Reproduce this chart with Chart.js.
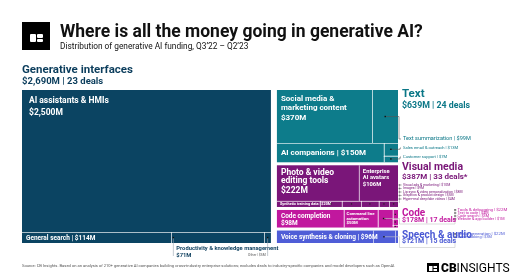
<!DOCTYPE html>
<html><head><meta charset="utf-8">
<script src="https://cdn.jsdelivr.net/npm/chart.js@4.4.0/dist/chart.umd.min.js"></script>
<style>
html,body{margin:0;padding:0;background:#fff;width:520px;height:272px;overflow:hidden;}
#wrap{position:relative;width:520px;height:272px;font-family:Roboto,'Liberation Sans',sans-serif;}
#logo{position:absolute;left:22px;top:22px;width:28px;height:28px;background:#000;}
.lg{position:absolute;background:#fff;border-radius:1px;}
#title{position:absolute;left:60px;top:20px;font-weight:700;font-size:17.5px;line-height:22px;color:#111;white-space:nowrap;}
#subtitle{position:absolute;left:60px;top:40.5px;font-size:8.3px;line-height:11px;color:#111;white-space:nowrap;}
canvas{position:absolute;left:0;top:0;}
</style></head>
<body><div id="wrap">
<canvas id="c" width="520" height="272"></canvas>
<div id="logo"><div class="lg" style="left:8px;top:12px;width:6px;height:8px"></div><div class="lg" style="left:15px;top:12px;width:6px;height:3.5px"></div><div class="lg" style="left:15px;top:16.5px;width:6px;height:3.5px"></div></div>
<div id="title">Where is all the money going in generative AI?</div>
<div id="subtitle">Distribution of generative AI funding, Q3’22 – Q2’23</div>
</div>
<script>
// ---------- DATA ----------
const groupNames = ['Generative interfaces', 'Text', 'Visual media', 'Code', 'Speech & audio'];
const groupFunding = [2690, 639, 387, 178, 121];
const groupDeals = ['23 deals', '24 deals', '33 deals*', '17 deals', '15 deals'];

const interfaceCategories = ['AI assistants & HMIs', 'General search', 'Productivity & knowledge management', 'Other'];
const interfaceFunding = [2500, 114, 71, 5];
const textCategories = ['Social media & marketing content', 'Text summarization', 'AI companions', 'Sales email & outreach', 'Customer support'];
const textFunding = [370, 99, 150, 13, 7];
const visualCategories = ['Photo & video editing tools', 'Enterprise AI avatars', 'Synthetic training data', 'Visual ads & marketing', 'Images', 'Lip sync & video personalization', 'Graphics & product design', 'Hyper-real deepfake videos'];
const visualFunding = [222, 106, 20, 10, 9, 8, 5, 4];
const codeCategories = ['Code completion', 'Command line automation', 'Tools & debugging', 'Text to code', 'Code search', 'Website & app builder'];
const codeFunding = [98, 50, 22, 4, 3, 1];
const speechCategories = ['Voice synthesis & cloning', 'Music generation', 'Voice dubbing'];
const speechFunding = [96, 22, 3];

const sourceNote = 'Source: CB Insights. Based on an analysis of 210+ generative AI companies building cross-industry enterprise solutions; excludes deals to industry-specific companies and model developers such as OpenAI.';

// ---------- PRESENTATION ----------
const groupCats = [interfaceCategories, textCategories, visualCategories, codeCategories, speechCategories];
const groupVals = [interfaceFunding, textFunding, visualFunding, codeFunding, speechFunding];
const groupColors = ['#0b4462', '#0d7c8b', '#7a1679', '#c1189e', '#4f5dd7'];
const headColors = ['#0b3d5c', '#0b7787', '#781577', '#c1189e', '#4a58d4'];
// row / stack structure of each group's tiles
const templates = [
  [[0], [1, 2, 3]],
  [[0, 1], [2, [3, 4]]],
  [[0, 1], [2, 3, 4, 5, 6, 7]],
  [[0, 1, 2, [3, 4, 5]]],
  [[0, 1, 2]]
];
const FONT = 'Roboto, "Liberation Sans", sans-serif';
const fmt = v => '$' + v.toLocaleString('en-US') + 'M';

function setFont(ctx, size, weight) { ctx.font = `${weight || 700} ${size}px ${FONT}`; }
function txt(ctx, s, x, y, size, weight, color, align) {
  setFont(ctx, size, weight); ctx.fillStyle = color; ctx.textAlign = align || 'left';
  ctx.textBaseline = 'middle'; ctx.fillText(s, x, y);
}
function wrap(ctx, s, maxW) {
  const words = s.split(' '); const lines = []; let cur = '';
  for (const w of words) {
    const t = cur ? cur + ' ' + w : w;
    if (ctx.measureText(t).width > maxW && cur) { lines.push(cur); cur = w; } else cur = t;
  }
  if (cur) lines.push(cur); return lines;
}
function layout(values, rows) {
  const item = it => Array.isArray(it) ? it.reduce((s, i) => s + values[i], 0) : values[it];
  const rowSum = r => r.reduce((s, it) => s + item(it), 0);
  const total = rows.reduce((s, r) => s + rowSum(r), 0);
  const cells = []; let y0 = 0;
  rows.forEach(r => {
    const h = rowSum(r) / total; let x0 = 0;
    r.forEach(it => {
      const w = item(it) / rowSum(r);
      if (Array.isArray(it)) {
        let yy = y0;
        it.forEach(i => { const hh = h * values[i] / item(it); cells[i] = {x0: x0, x1: x0 + w, y0: yy, y1: yy + hh}; yy += hh; });
      } else cells[it] = {x0: x0, x1: x0 + w, y0: y0, y1: y0 + h};
      x0 += w;
    });
    y0 += h;
  });
  return cells;
}
function leader(ctx, pts, color) {
  ctx.save(); ctx.strokeStyle = color || '#555'; ctx.lineWidth = 0.6; ctx.beginPath();
  ctx.moveTo(pts[0][0], pts[0][1]); for (let i = 1; i < pts.length; i++) ctx.lineTo(pts[i][0], pts[i][1]);
  ctx.stroke(); ctx.fillStyle = '#111'; ctx.fillRect(pts[0][0] - 0.7, pts[0][1] - 0.7, 1.4, 1.4); ctx.restore();
}

const treemapPlugin = {
  id: 'treemap',
  afterDraw(chart) {
    const {ctx, scales: {x, y}} = chart;
    const grand = groupFunding.reduce((a, b) => a + b, 0);
    const rightTotal = grand - groupFunding[0];
    const GX = 6, GY = 3, last = groupFunding.length - 1;
    const gpx = [];
    let acc = 0;
    groupFunding.forEach((v, g) => {
      let d;
      if (g === 0) d = {x0: 0, x1: v, y0: 0, y1: 1};
      else { d = {x0: groupFunding[0], x1: grand, y0: acc / rightTotal, y1: (acc + v) / rightTotal}; acc += v; }
      gpx[g] = {
        x0: x.getPixelForValue(d.x0) + (g > 0 ? GX / 2 : 0),
        x1: x.getPixelForValue(d.x1) - (g === 0 ? GX / 2 : 0),
        y0: y.getPixelForValue(d.y0) + (g > 1 ? GY / 2 : 0),
        y1: y.getPixelForValue(d.y1) - (g > 0 && g < last ? GY / 2 : 0)
      };
    });
    const allCells = [];
    groupFunding.forEach((v, g) => {
      const G = gpx[g], W = G.x1 - G.x0, H = G.y1 - G.y0;
      const cells = layout(groupVals[g], templates[g]).map(c => ({
        x0: G.x0 + c.x0 * W, x1: G.x0 + c.x1 * W, y0: G.y0 + c.y0 * H, y1: G.y0 + c.y1 * H,
        right: c.x1 < 0.9999, bottom: c.y1 < 0.9999
      }));
      allCells[g] = cells;
      ctx.fillStyle = groupColors[g];
      cells.forEach(c => ctx.fillRect(c.x0, c.y0, c.x1 - c.x0, c.y1 - c.y0));
      ctx.save(); ctx.strokeStyle = 'rgba(255,255,255,0.6)'; ctx.lineWidth = 1;
      cells.forEach(c => {
        ctx.beginPath();
        if (c.right) { const xx = Math.round(c.x1) + 0.5; ctx.moveTo(xx, c.y0); ctx.lineTo(xx, c.y1); }
        if (c.bottom) { const yy = Math.round(c.y1) + 0.5; ctx.moveTo(c.x0, yy); ctx.lineTo(c.x1, yy); }
        ctx.stroke();
      });
      ctx.restore();
    });
    const W = '#ffffff';
    const cc = c => [(c.x0 + c.x1) / 2, (c.y0 + c.y1) / 2];
    function block(g, i, size, padX, firstY, lh, valGap, maxW) {
      const c = allCells[g][i]; setFont(ctx, size, 700);
      const lines = wrap(ctx, groupCats[g][i], maxW || (c.x1 - c.x0 - padX * 2));
      let yy = c.y0 + firstY;
      lines.forEach(l => { txt(ctx, l, c.x0 + padX, yy, size, 700, W); yy += lh; });
      txt(ctx, fmt(groupVals[g][i]), c.x0 + padX, yy - lh + valGap, size, 700, W);
    }
    function inline(g, i, size, padX) {
      const c = allCells[g][i];
      txt(ctx, groupCats[g][i] + ' | ' + fmt(groupVals[g][i]), c.x0 + padX, (c.y0 + c.y1) / 2 + 0.3, size, 700, W);
    }
    // --- Generative interfaces
    block(0, 0, 8.5, 7, 11, 11.5, 11.5, 200);
    inline(0, 1, 6.5, 4);
    { const c = allCells[0][2]; const p = [c.x0 + 2, (c.y0 + c.y1) / 2];
      leader(ctx, [p, [p[0], 256]], '#9aa6b0');
      txt(ctx, groupCats[0][2], c.x0 + 5, 249, 5.8, 700, headColors[0]);
      txt(ctx, fmt(groupVals[0][2]), c.x0 + 5, 255.5, 5.8, 700, headColors[0]); }
    { const c = allCells[0][3]; const p = cc(c);
      leader(ctx, [p, [p[0], 256]], '#9aa6b0');
      txt(ctx, groupCats[0][3] + ' | ' + fmt(groupVals[0][3]), p[0] - 2, 255.5, 3.4, 400, '#555', 'right'); }
    txt(ctx, groupNames[0], 22, 70.5, 11.5, 700, headColors[0]);
    txt(ctx, fmt(groupFunding[0]) + ' | ' + groupDeals[0], 22, 82, 9.5, 700, headColors[0]);

    const LX = 402;
    // --- Text
    block(1, 0, 8, 4, 9, 8.5, 10);
    inline(1, 2, 8, 4);
    { const c = allCells[1][1], p = cc(c); leader(ctx, [p, [399, p[1]], [399, 139], [LX - 1, 139]]);
      txt(ctx, groupCats[1][1] + ' | ' + fmt(groupVals[1][1]), LX + 1, 139, 5.6, 400, headColors[1]); }
    [[3, 148], [4, 157]].forEach(([i, ly]) => { const c = allCells[1][i], p = cc(c);
      leader(ctx, [p, [400, p[1]], [400, ly], [LX - 1, ly]]);
      txt(ctx, groupCats[1][i] + ' | ' + fmt(groupVals[1][i]), LX + 1, ly, 4.1, 400, headColors[1]); });
    txt(ctx, groupNames[1], LX, 94.5, 11.5, 700, headColors[1]);
    txt(ctx, fmt(groupFunding[1]) + ' | ' + groupDeals[1], LX, 106, 8.8, 700, headColors[1]);

    // --- Visual media
    block(2, 0, 8.5, 4, 7.5, 8, 10);
    block(2, 1, 5.8, 4, 6, 6.3, 6.6);
    inline(2, 2, 3.8, 3);
    [3, 4, 5, 6, 7].forEach((i, k) => { const c = allCells[2][i], p = cc(c), ly = 185 + k * 3.5;
      ctx.fillStyle = '#222'; ctx.fillRect(p[0] - 0.6, p[1] - 0.6, 1.2, 1.2);
      leader(ctx, [[399.5, ly], [LX, ly]], '#aaa');
      txt(ctx, groupCats[2][i] + ' | ' + fmt(groupVals[2][i]), LX + 1, ly, 3.5, 400, headColors[2]); });
    ctx.save(); ctx.strokeStyle = '#bbb'; ctx.lineWidth = 0.6; ctx.beginPath(); ctx.moveTo(399.5, 184); ctx.lineTo(399.5, 203); ctx.stroke(); ctx.restore();
    txt(ctx, groupNames[2], LX, 167.5, 10.5, 700, headColors[2]);
    txt(ctx, fmt(groupFunding[2]) + ' | ' + groupDeals[2], LX, 176.5, 8, 700, headColors[2]);

    // --- Code
    block(3, 0, 6.5, 4, 6, 7, 7);
    block(3, 1, 4.3, 3, 4.2, 4.5, 4.6);
    [2, 3, 4, 5].forEach((i, k) => { const c = allCells[3][i], p = cc(c), ly = 210 + k * 3;
      ctx.fillStyle = '#222'; ctx.fillRect(p[0] - 0.6, p[1] - 0.6, 1.2, 1.2);
      leader(ctx, [[455, ly], [457, ly]], '#aaa');
      txt(ctx, groupCats[3][i] + ' | ' + fmt(groupVals[3][i]), 457.5, ly, i === 2 ? 4.3 : 3.8, 400, headColors[3]); });
    leader(ctx, [[allCells[3][2].x0 + 6, 218.5], [399.5, 218.5], [399.5, 224], [455, 224], [455, 210]], '#c8c8c8');
    txt(ctx, groupNames[3], LX, 213, 10, 700, headColors[3]);
    txt(ctx, fmt(groupFunding[3]) + ' | ' + groupDeals[3], LX, 220.5, 7, 700, headColors[3]);

    // --- Speech & audio
    inline(4, 0, 6.5, 4);
    [1, 2].forEach((i, k) => { const ly = 234 + k * 3.3;
      leader(ctx, [[455, ly], [457, ly]], '#aaa');
      txt(ctx, groupCats[4][i] + ' | ' + fmt(groupVals[4][i]), 457.5, ly, i === 1 ? 4.3 : 3.8, 400, headColors[4]); });
    { const c = allCells[4][1], p = cc(c); leader(ctx, [p, [399.5, p[1]], [399.5, 247.5], [455, 247.5], [455, 234]], '#c8c8c8'); }
    txt(ctx, groupNames[4], LX, 235, 10, 700, headColors[4]);
    txt(ctx, fmt(groupFunding[4]) + ' | ' + groupDeals[4], LX, 241.5, 7, 700, headColors[4]);

    // --- footer
    txt(ctx, sourceNote, 22, 265.5, 4.1, 400, '#555');
    ctx.fillStyle = '#000'; ctx.fillRect(427, 263, 12, 10);
    ctx.fillStyle = '#fff'; ctx.fillRect(429, 266, 3.5, 5); ctx.fillRect(433.5, 266, 3.5, 2); ctx.fillRect(433.5, 269, 3.5, 2);
    setFont(ctx, 12, 900); ctx.fillStyle = '#000'; ctx.textAlign = 'left'; ctx.textBaseline = 'middle';
    ctx.fillText('CB', 441, 268.5); const w = ctx.measureText('CB').width;
    setFont(ctx, 12, 400); ctx.fillText('INSIGHTS', 441 + w, 268.5);
  }
};

new Chart(document.getElementById('c').getContext('2d'), {
  type: 'scatter',
  data: {datasets: [{data: []}]},
  options: {
    responsive: false, animation: false, devicePixelRatio: 1,
    layout: {padding: {left: 22, top: 90, right: 122, bottom: 29}},
    scales: {
      x: {type: 'linear', min: 0, max: groupFunding.reduce((a, b) => a + b, 0), display: false},
      y: {type: 'linear', min: 0, max: 1, reverse: true, display: false}
    },
    plugins: {legend: {display: false}, tooltip: {enabled: false}, title: {display: false}}
  },
  plugins: [treemapPlugin]
});
</script>
</body></html>
